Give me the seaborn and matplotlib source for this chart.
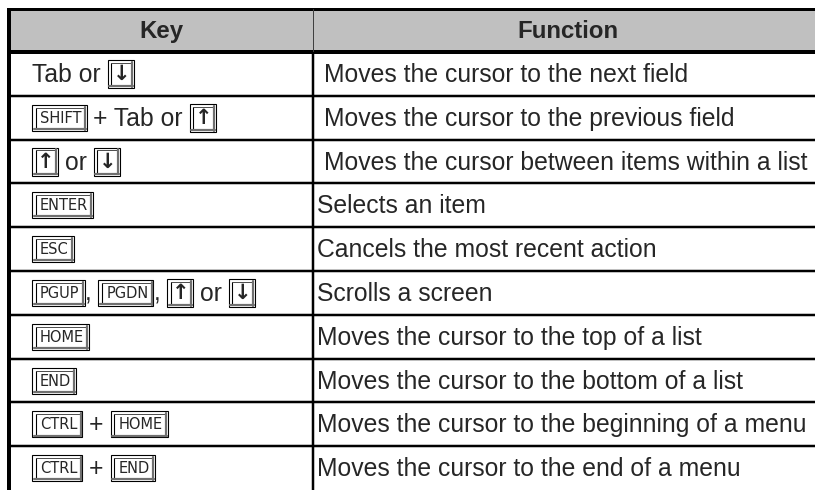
import re
import matplotlib
matplotlib.use("Agg")
import matplotlib.pyplot as plt
from matplotlib.patches import Rectangle
import seaborn as sns

# table content
headers = ["Key", "Function"]
keys = [
    "Tab or [↓]",
    "[SHIFT] + Tab or [↑]",
    "[↑] or [↓]",
    "[ENTER]",
    "[ESC]",
    "[PGUP], [PGDN], [↑] or [↓]",
    "[HOME]",
    "[END]",
    "[CTRL] + [HOME]",
    "[CTRL] + [END]",
]
functions = [
    " Moves the cursor to the next field",
    " Moves the cursor to the previous field",
    " Moves the cursor between items within a list",
    "Selects an item",
    "Cancels the most recent action",
    "Scrolls a screen",
    "Moves the cursor to the top of a list",
    "Moves the cursor to the bottom of a list",
    "Moves the cursor to the beginning of a menu",
    "Moves the cursor to the end of a menu",
]

sns.set_theme(style="white")
plt.rcParams["font.family"] = ["Liberation Sans", "DejaVu Sans"]

W, H = 815, 490
fig = plt.figure(figsize=(W / 100, H / 100), dpi=100)
ax = fig.add_axes([0, 0, 1, 1])
ax.set_xlim(0, W)
ax.set_ylim(H, 0)
ax.axis("off")
fig.patch.set_facecolor("white")

left, split = 9, 313
top, head_bot = 9.5, 52
row_h = 43.8
px = 0.72  # points per pixel
fs = 17.8
key_fs = 10.5
key_font = ["DejaVu Sans Condensed", "DejaVu Sans"]

renderer = fig.canvas.get_renderer()


def text_w(t):
    return t.get_window_extent(renderer).width


# header background and borders
ax.add_patch(Rectangle((left, top), W - left + 5, head_bot - top, fc="#c0c0c0", ec="none"))
ax.plot([left, W + 5], [top, top], color="black", lw=3 * px, solid_capstyle="butt")
ax.plot([left, W + 5], [head_bot, head_bot], color="black", lw=4 * px, solid_capstyle="butt")
ax.plot([left, left], [top - 1.5, H + 5], color="black", lw=4 * px, solid_capstyle="butt")
ax.plot([split, split], [top, head_bot], color="#404040", lw=1 * px)
ax.plot([split, split], [head_bot, H + 5], color="black", lw=2.5 * px, solid_capstyle="butt")
for i in range(1, len(keys)):
    y = head_bot + i * row_h
    ax.plot([left, W + 5], [y, y], color="black", lw=2.5 * px, solid_capstyle="butt")

ax.text((left + split) / 2, (top + head_bot) / 2 + 1, headers[0], fontsize=fs - 0.5,
        fontweight="bold", ha="center", va="center")
ax.text((split + W) / 2 + 4, (top + head_bot) / 2 + 1, headers[1], fontsize=fs - 0.5,
        fontweight="bold", ha="center", va="center")

probe1 = ax.text(0, -100, "x x", fontsize=fs)
probe2 = ax.text(0, -100, "xx", fontsize=fs)
space_w = text_w(probe1) - text_w(probe2)
probe1.remove()
probe2.remove()


def draw_key(x, yc, label):
    arrow = label in ("↑", "↓")
    if arrow:
        w, h = 26, 28
    else:
        t = ax.text(0, -100, label, fontsize=key_fs, family=key_font)
        w, h = text_w(t) + 13, 26
        t.remove()
    y0 = yc - h / 2
    ax.add_patch(Rectangle((x, y0), w, h, fc="white", ec="black", lw=1.1 * px))
    # bevel: double line on left/top, shadow on bottom/right
    ax.plot([x + 3.5, x + 3.5], [y0 + 3, y0 + h - 2.5], color="black", lw=1.1 * px)
    ax.plot([x + 3.5, x + w - 2], [y0 + 3, y0 + 3], color="#505050", lw=1 * px)
    ax.plot([x + 1.5, x + w - 1], [y0 + h - 1.8, y0 + h - 1.8], color="#707070", lw=2.2 * px)
    ax.plot([x + w - 1.8, x + w - 1.8], [y0 + 2, y0 + h - 1], color="#707070", lw=2.2 * px)
    if arrow:
        ax.text(x + w / 2 + 1, yc + 0.5, label, fontsize=15, fontweight="bold",
                family="DejaVu Sans", ha="center", va="center")
    else:
        ax.text(x + w / 2 + 1.5, yc + 0.5, label, fontsize=key_fs, family=key_font,
                ha="center", va="center")
    return w


for i, (k, f) in enumerate(zip(keys, functions)):
    yc = head_bot + (i + 0.5) * row_h
    x = 32
    for piece in re.split(r"(\[[^\]]+\])", k):
        if not piece:
            continue
        if piece.startswith("["):
            x += draw_key(x, yc, piece[1:-1])
        else:
            lead = len(piece) - len(piece.lstrip(" "))
            trail = len(piece) - len(piece.rstrip(" "))
            x += lead * space_w
            core = piece.strip(" ")
            if core:
                t = ax.text(x, yc + 1, core, fontsize=fs, ha="left", va="center")
                x += text_w(t)
            x += trail * space_w
    lead = len(f) - len(f.lstrip(" "))
    ax.text(317 + lead * space_w, yc + 1, f.strip(), fontsize=fs, ha="left", va="center")

fig.savefig("out.png", dpi=100, facecolor="white")
